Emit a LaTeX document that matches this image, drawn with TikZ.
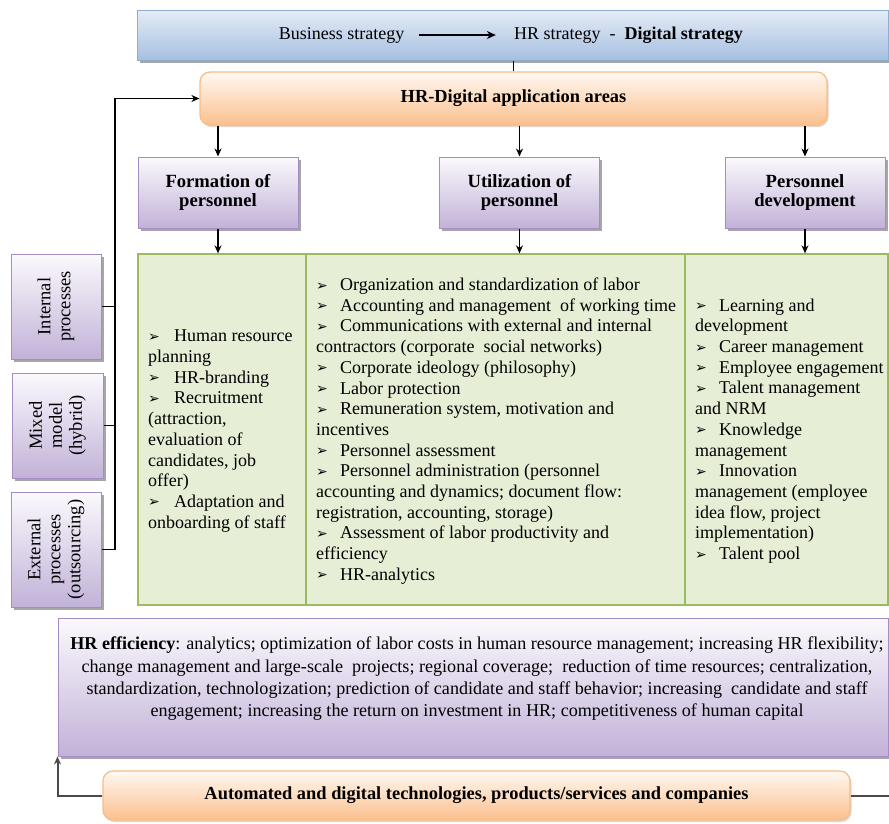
\documentclass[tikz,border=0pt]{standalone}
\usepackage{fontspec}
\setmainfont{Liberation Serif}
\newfontfamily\dingfont{DejaVu Sans}
\usetikzlibrary{arrows.meta,shadows}

\definecolor{bluetop}{HTML}{E4ECF7}
\definecolor{bluebot}{HTML}{A6BFDF}
\definecolor{blueedge}{HTML}{8FADD0}
\definecolor{orangetop}{HTML}{FFF8F2}
\definecolor{orangebot}{HTML}{FBC08E}
\definecolor{orangeedge}{HTML}{F7BC88}
\definecolor{purptop}{HTML}{FBF9FD}
\definecolor{purpbot}{HTML}{C2B2D8}
\definecolor{purpedge}{HTML}{A58DC4}
\definecolor{greenfill}{HTML}{E6EFD5}
\definecolor{greenedge}{HTML}{9CBB5E}
\definecolor{linegray}{HTML}{4A4A4A}

% bullet used in the lists
\newcommand\itm{\makebox[24pt][l]{\raisebox{0.5pt}{\dingfont\fontsize{14}{14}\selectfont ➢}}}
\newcommand\bodysize{\fontsize{18}{20.7}\selectfont}

\begin{document}
\begin{tikzpicture}[x=1pt,y=-1pt,
  greyshadow/.style={drop shadow={shadow xshift=2.5pt,shadow yshift=-2.5pt,fill=black,opacity=0.35}},
  bluebox/.style={draw=blueedge,line width=1pt,top color=bluetop,bottom color=bluebot,
    inner sep=0pt,greyshadow},
  orangebox/.style={draw=orangeedge,line width=1.2pt,top color=orangetop,bottom color=orangebot,
    rounded corners=10pt,inner sep=0pt,
    drop shadow={shadow xshift=1.5pt,shadow yshift=-2pt,fill=orangebot!70!black,opacity=0.35},
    font=\bfseries\fontsize{18.4}{20}\selectfont},
  purplebox/.style={draw=purpedge,line width=1pt,top color=purptop,bottom color=purpbot,
    inner sep=0pt,align=center,greyshadow},
  headbox/.style={purplebox,minimum width=160pt,minimum height=71pt,
    font=\bfseries\fontsize{18.6}{19.5}\selectfont},
  sidebox/.style={purplebox,minimum width=90pt},
  greencol/.style={draw=greenedge,line width=1.3pt,fill=greenfill,inner sep=0pt,
    minimum height=351pt},
  listtext/.style={align=left,inner sep=0pt,font=\bodysize},
  plain/.style={inner sep=0pt,font=\fontsize{18}{20.7}\selectfont},
  sidetext/.style={inner sep=0pt,align=center,font=\fontsize{18.5}{20}\selectfont,rotate=90},
  conn/.style={line width=1.3pt,-{Stealth[length=8pt,width=7pt]}},
  plainline/.style={line width=1.3pt},
  grayline/.style={draw=linegray,line width=2pt}
]
\useasboundingbox (0,0) rectangle (889,823);

% strategy banner
\node[bluebox,minimum width=751pt,minimum height=50pt] (strat) at (512.5,35) {};
\node[plain] (bs) at (341.5,35) {Business strategy};
\node[plain] (hrs) at (628.5,35) {HR strategy \ - \ \textbf{Digital strategy}};
\draw[line width=2pt,-{Stealth[length=9pt,width=8pt]}] ([xshift=15pt]bs.east) -- ([xshift=-18pt]hrs.west);

% application areas
\node[orangebox,minimum width=627pt,minimum height=53pt] (apps) at (513.5,98.5) {HR-Digital application areas};
\draw[plainline] (strat.south -| apps.north) -- (apps.north);

% three directions
\node[headbox] (form) at (218,192.5) {Formation of\\personnel};
\node[headbox] (util) at (519.5,192.5) {Utilization of\\personnel};
\node[headbox] (devl) at (805,192.5) {Personnel\\development};

\foreach \b in {form,util,devl}
  \draw[conn] (apps.south -| \b.north) -- (\b.north);

% green area split into three columns
\node[greencol,minimum width=168pt] (c1) at (222,429.5) {};
\node[greencol,minimum width=379pt] (c2) at (495.5,429.5) {};
\node[greencol,minimum width=203pt] (c3) at (786.5,429.5) {};

\draw[conn] (form.south) -- (form.south |- c1.north);
\draw[conn] (util.south) -- (util.south |- c2.north);
\draw[conn] (devl.south) -- (devl.south |- c3.north);

\node[listtext,anchor=west] (l1) at (148,431) {%
\itm\hspace{2pt}Human resource\\
planning\\
\itm\hspace{2pt}HR-branding\\
\itm\hspace{2pt}Recruitment\\
(attraction,\\
evaluation of\\
candidates, job\\
offer)\\
\itm\hspace{2pt}Adaptation and\\
onboarding of staff};

\node[listtext,anchor=west] (l2) at (316,431) {%
\itm Organization and standardization of labor\\
\itm Accounting and management \ of working time\\
\itm Communications with external and internal\\
contractors (corporate \ social networks)\\
\itm Corporate ideology (philosophy)\\
\itm Labor protection\\
\itm Remuneration system, motivation and\\
incentives\\
\itm Personnel assessment\\
\itm Personnel administration (personnel\\
accounting and dynamics; document flow:\\
registration, accounting, storage)\\
\itm Assessment of labor productivity and\\
efficiency\\
\itm HR-analytics};

\node[listtext,anchor=west] (l3) at (695,431) {%
\itm Learning and\\
development\\
\itm Career management\\
\itm Employee engagement\\
\itm Talent management\\
and NRM\\
\itm Knowledge\\
management\\
\itm Innovation\\
management (employee\\
idea flow, project\\
implementation)\\
\itm Talent pool};

% sourcing models on the left
\node[sidebox,minimum height=105pt] (intp) at (56,306.5) {};
\node[sidetext] (intt) at (intp.center) {Internal\\processes};
\node[sidebox,minimum width=91pt,minimum height=105pt] (mixp) at (57.5,425.5) {};
\node[sidetext] (mixt) at (mixp.center) {Mixed\\model\\(hybrid)};
\node[sidebox,minimum height=115pt] (extp) at (56,549.5) {};
\node[sidetext] (extt) at (extp.center) {External\\processes\\(outsourcing)};

\coordinate (elbow) at (115,98.5);
\draw[conn] (extp.east) -| (elbow) -- (apps.west);
\draw[plainline] (intp.east) -- (intp.east -| elbow);
\draw[plainline] (mixp.east) -- (mixp.east -| elbow);

% efficiency outcome
\node[purplebox,minimum width=830pt,minimum height=138pt] (eff) at (473,687) {};
\node[inner sep=0pt,align=center,font=\fontsize{18.1}{22.3}\selectfont] (efft) at (477,679) {%
\textbf{HR efficiency}: analytics; optimization of labor costs in human resource management; increasing HR flexibility;\\
change management and large-scale \ projects; regional coverage; \ reduction of time resources; centralization,\\
standardization, technologization; prediction of candidate and staff behavior; increasing \ candidate and staff\\
engagement; increasing the return on investment in HR; competitiveness of human capital};

% technologies
\node[orangebox,minimum width=747pt,minimum height=49pt] (tech) at (476.5,795.5) {Automated and digital technologies, products/services and companies};
\coordinate (rightend) at (889,795.5);
\draw[grayline] (tech.east) -- (rightend);
\draw[grayline,-{Stealth[length=8pt,width=7pt]}] (tech.west) -| (eff.south west);

\end{tikzpicture}
\end{document}
